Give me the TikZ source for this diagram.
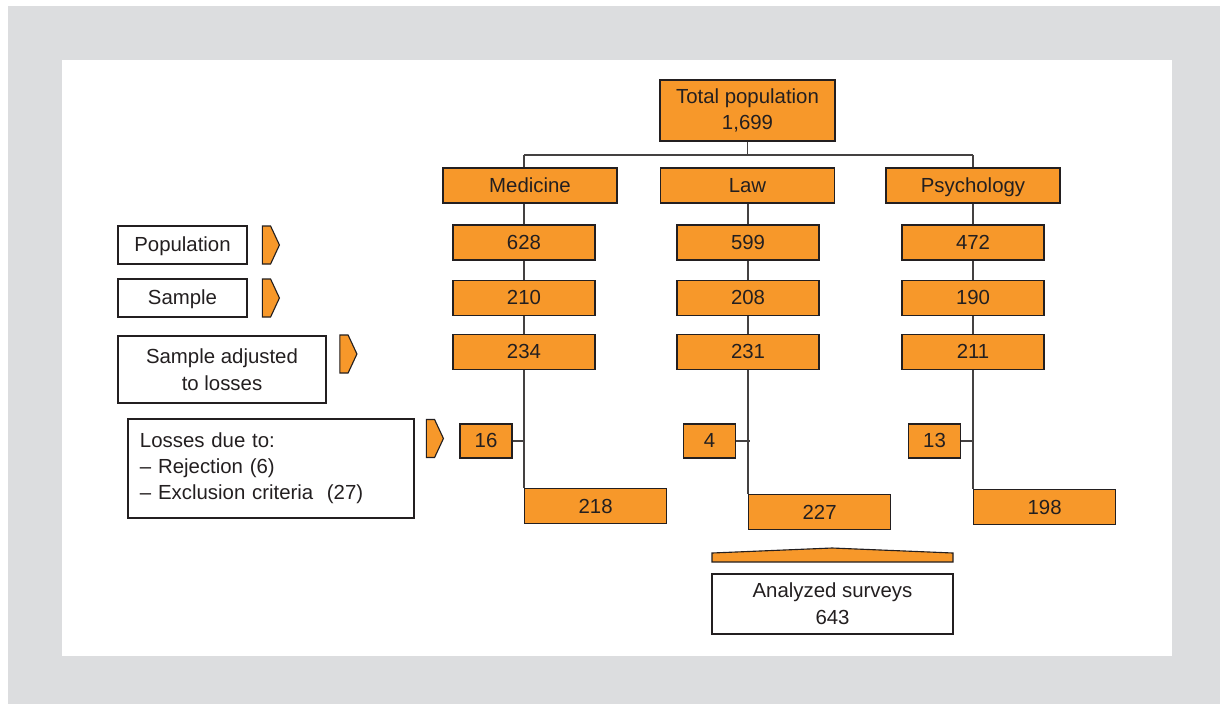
\documentclass[tikz,border=0pt]{standalone}
\usepackage{fontspec}
\setmainfont{Liberation Sans}
\usepackage{xcolor}
\usetikzlibrary{shapes.symbols}
\definecolor{boxorange}{HTML}{F7982A}
\definecolor{framegray}{HTML}{DCDDDF}
\definecolor{inkgray}{HTML}{231F20}

\begin{document}
\begin{tikzpicture}[x=0.025cm, y=-0.025cm,
every node/.style={font=\fontsize{14.5}{19}\selectfont, text=inkgray, align=center, inner sep=0pt},
oneline/.style={text height=10.4pt, text depth=0.5pt},
obox/.style={draw=inkgray, fill=boxorange, line width=0.8pt},
wbox/.style={draw=inkgray, fill=white, line width=0.8pt},
numbox/.style={obox, oneline, minimum width=3.55cm, minimum height=0.875cm},
deptbox/.style={obox, oneline, minimum width=4.35cm, minimum height=0.875cm},
lossbox/.style={obox, oneline, minimum width=1.3cm, minimum height=0.85cm},
chev/.style={shape=signal, signal to=east, signal from=nowhere, signal pointer angle=130,
  draw=inkgray, fill=boxorange, line width=0.8pt, minimum width=0.425cm, minimum height=0.95cm},
link/.style={draw=inkgray!85, line width=0.8pt}]
\useasboundingbox (0,0) rectangle (1220,704);
\fill[framegray] (8,6) rectangle (1220,704);
\fill[white] (62,60) rectangle (1172,656);

% top of the tree
\node[obox, minimum width=4.375cm, minimum height=1.525cm] (tot) at (747.5,110.5) {Total population\\1,699};
\node[deptbox] (med) at (530,185.5) {Medicine};
\node[deptbox] (law) at (747.5,185.5) {Law};
\node[deptbox] (psy) at (973,185.5) {Psychology};

% numbers per faculty
\node[numbox] (med1) at (524,242.5) {628};
\node[numbox] (law1) at (748,242.5) {599};
\node[numbox] (psy1) at (973,242.5) {472};
\node[numbox] (med2) at (524,298) {210};
\node[numbox] (law2) at (748,298) {208};
\node[numbox] (psy2) at (973,298) {190};
\node[numbox] (med3) at (524,352) {234};
\node[numbox] (law3) at (748,352) {231};
\node[numbox] (psy3) at (973,352) {211};

\node[lossbox] (medloss) at (486,441) {16};
\node[lossbox] (lawloss) at (709.5,441) {4};
\node[lossbox] (psyloss) at (934.5,441) {13};

\node[numbox, anchor=north west] (medfin) at (524,488) {218};
\node[numbox, anchor=north west] (lawfin) at (748,494) {227};
\node[numbox, anchor=north west] (psyfin) at (973,489) {198};

% labels on the left
\node[wbox, oneline, minimum width=3.225cm, minimum height=0.95cm] (lpop) at (182.5,245) {Population};
\node[wbox, oneline, minimum width=3.225cm, minimum height=0.95cm] (lsam) at (182.5,298) {Sample};
\node[wbox, minimum width=5.2cm, minimum height=1.675cm] (ladj) at (222,369.5) {Sample adjusted\\to losses};
\node[wbox, minimum width=7.15cm, minimum height=2.475cm, text width=6.55cm, align=left,
  font=\fontsize{14.5}{18.5}\selectfont] (lloss) at (271,468.5)
  {Losses due to:\\-- Rejection (6)\\-- Exclusion criteria \ (27)};
\node[chev] (cpop) at (266.5,245) {};
\node[chev] (csam) at (266.5,298) {};
\node[chev] (cadj) at (344,354) {};
\node[chev] (closs) at (430.5,438.5) {};

% result
\draw[obox] (712,553) -- (832,548) -- (953,553) -- (953,562) -- (712,562) -- cycle;
\node[wbox, minimum width=6.025cm, minimum height=1.5cm] (ana) at (832.5,604) {Analyzed surveys\\643};

% connectors
\coordinate (bar) at (0,155);
\draw[link] (tot.south) -- (tot.south |- bar);
\draw[link] (bar -| med1.north) -- (bar -| psy1.north);
\draw[link] (bar -| med1.north) -- (med.north -| med1.north);
\draw[link] (bar -| psy1.north) -- (psy.north);
\draw[link] (med.south -| med1.north) -- (med1.north);
\draw[link] (law.south -| law1.north) -- (law1.north);
\draw[link] (psy.south) -- (psy1.north);
\draw[link] (med1.south) -- (med2.north);
\draw[link] (law1.south) -- (law2.north);
\draw[link] (psy1.south) -- (psy2.north);
\draw[link] (med2.south) -- (med3.north);
\draw[link] (law2.south) -- (law3.north);
\draw[link] (psy2.south) -- (psy3.north);
\draw[link] (med3.south) -- (medfin.north west);
\draw[link] (law3.south) -- (lawfin.north west);
\draw[link] (psy3.south) -- (psyfin.north west);
\draw[link] (medloss.east) -- (medloss.east -| med3.south);
\draw[link] (lawloss.east) -- ([xshift=0.05cm]lawloss.east -| law3.south);
\draw[link] (psyloss.east) -- (psyloss.east -| psy3.south);
\end{tikzpicture}
\end{document}
